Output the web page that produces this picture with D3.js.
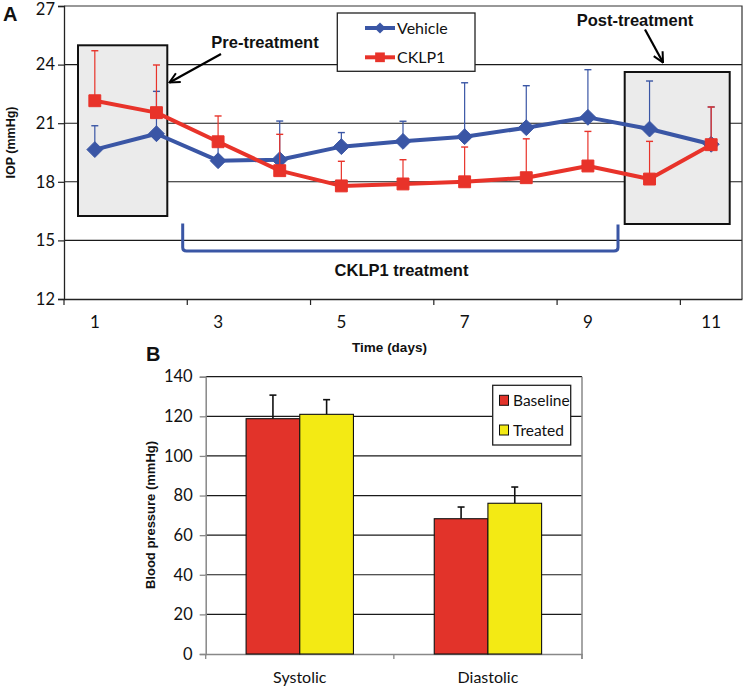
<!DOCTYPE html>
<html><head><meta charset="utf-8">
<script src="https://cdn.jsdelivr.net/npm/d3@7"></script>
<style>
html,body{margin:0;padding:0;background:#fff;}
svg{display:block;}
text{font-family:Lato,"Open Sans",sans-serif;fill:#111;}
.bold{font-family:"Liberation Sans",Arial,sans-serif;font-weight:bold;}
</style></head>
<body>
<svg id="c" width="745" height="686"></svg>
<script>
// ---------- Panel A data ----------
const days = [1,2,3,4,5,6,7,8,9,10,11];
const dayTickLabels = [1,3,5,7,9,11];
const iopTicks = [12,15,18,21,24,27];
const vehicleIOP = [19.65,20.46,19.08,19.13,19.80,20.07,20.31,20.77,21.30,20.70,19.92];
const vehicleErr = [1.22,2.17,1.0,1.98,0.72,1.03,2.76,2.15,2.44,2.46,1.91];
const cklpIOP    = [22.15,21.54,20.05,18.57,17.79,17.89,18.00,18.21,18.81,18.14,19.90];
const cklpErr    = [2.56,2.44,1.32,1.86,1.26,1.24,1.78,1.99,1.77,1.93,1.93];
const seriesNamesA = ["Vehicle","CKLP1"];
// ---------- Panel B data ----------
const bpCategories = ["Systolic","Diastolic"];
const bpSeries = ["Baseline","Treated"];
const bpBaseline = [118.8,68.3];
const bpTreated  = [121.0,76.1];
const bpBaselineErr = [11.9,5.9];
const bpTreatedErr  = [7.4,8.2];
const bpTicks = [0,20,40,60,80,100,120,140];

const BLUE="#3a56a5", RED="#e8332a", YEL="#f3ea14", BRED="#e2332a";
const svg = d3.select("#c");

// ================= PANEL A =================
const A = {l:64, r:742, t:6, b:299};
const x = d3.scaleBand().domain(days).range([A.l, A.r]).paddingInner(0).paddingOuter(0);
const y = d3.scaleLinear().domain([12,27]).range([A.b, A.t]);
const cx = d => x(d) + x.bandwidth()/2;
const gA = svg.append("g");

// gridlines
gA.append("g").selectAll("line").data(iopTicks.slice(1,-1)).join("line")
  .attr("x1",A.l).attr("x2",A.r).attr("y1",d=>y(d)).attr("y2",d=>y(d))
  .attr("stroke","#1a1a1a").attr("stroke-width",1.1);
// border
gA.append("path").attr("d",`M${A.l},${A.t}H${A.r}V${A.b}`).attr("fill","none").attr("stroke","#333").attr("stroke-width",1.2);

// y axis
const yAx = gA.append("g").attr("transform",`translate(${A.l},0)`)
  .call(d3.axisLeft(y).tickValues(iopTicks).tickSize(6).tickPadding(3));
yAx.select(".domain").attr("stroke","#222").attr("stroke-width",1.3);
yAx.selectAll(".tick line").attr("stroke","#222").attr("stroke-width",1.2);
yAx.selectAll(".tick text").attr("font-family","Lato").attr("font-size",16.5).attr("fill","#111");
yAx.selectAll(".tick text").filter(d=>d===27).attr("dy","0.5em");

// x axis
const xAx = gA.append("g").attr("transform",`translate(0,${A.b})`)
  .call(d3.axisBottom(x).tickValues(dayTickLabels).tickSize(0).tickPadding(17));
xAx.select(".domain").attr("stroke","#222").attr("stroke-width",1.3);
xAx.selectAll(".tick text").attr("font-family","Lato").attr("font-size",17).attr("fill","#111");
// category boundary ticks every 2 categories
const boundaryDays = days.filter((d,i)=> i%2===0);
gA.append("g").selectAll("line").data(boundaryDays).join("line")
  .attr("x1",d=>x(d)).attr("x2",d=>x(d)).attr("y1",A.b).attr("y2",A.b+6)
  .attr("stroke","#222").attr("stroke-width",1.2);

// gray boxes
gA.append("rect").attr("x",78).attr("y",45.3).attr("width",89.3).attr("height",170.7)
  .attr("fill","#ebebeb").attr("stroke","#111").attr("stroke-width",2);
gA.append("rect").attr("x",624.7).attr("y",72).attr("width",105).attr("height",152)
  .attr("fill","#ebebeb").attr("stroke","#111").attr("stroke-width",2);

// legend A
gA.append("rect").attr("x",337.3).attr("y",13).attr("width",137.7).attr("height",58.3)
  .attr("fill","#fff").attr("stroke","#222").attr("stroke-width",1.3);

function drawSeries(vals, errs, color, shape){
  const g = gA.append("g");
  // error bars (plus only)
  g.selectAll("line.eb").data(days).join("line").attr("class","eb")
    .attr("x1",d=>cx(d)).attr("x2",d=>cx(d))
    .attr("y1",(d,i)=>y(vals[i])).attr("y2",(d,i)=>y(vals[i]+errs[i]))
    .attr("stroke",color).attr("stroke-width",1.2);
  g.selectAll("line.cap").data(days).join("line").attr("class","cap")
    .attr("x1",d=>cx(d)-3.5).attr("x2",d=>cx(d)+3.5)
    .attr("y1",(d,i)=>y(vals[i]+errs[i])).attr("y2",(d,i)=>y(vals[i]+errs[i]))
    .attr("stroke",color).attr("stroke-width",1.4);
  const line = d3.line().x(d=>cx(d)).y((d,i)=>y(vals[i]));
  g.append("path").datum(days).attr("d",line).attr("fill","none")
    .attr("stroke",color).attr("stroke-width",4).attr("stroke-linejoin","round");
  const sym = d3.symbol().type(shape==="diamond"?d3.symbolDiamond2:d3.symbolSquare2).size(shape==="diamond"?160:180);
  g.selectAll("path.m").data(days).join("path").attr("class","m")
    .attr("transform",(d,i)=>`translate(${cx(d)},${y(vals[i])})`)
    .attr("d",sym).attr("fill",color).attr("stroke",color).attr("stroke-width",1);
}
drawSeries(vehicleIOP, vehicleErr, BLUE, "diamond");
drawSeries(cklpIOP, cklpErr, RED, "square");

// legend entries
const legA = [{name:seriesNamesA[0],c:BLUE,s:"diamond",y:28},{name:seriesNamesA[1],c:RED,s:"square",y:57.3}];
legA.forEach(e=>{
  gA.append("line").attr("x1",365).attr("x2",395).attr("y1",e.y).attr("y2",e.y)
    .attr("stroke",e.c).attr("stroke-width",4);
  gA.append("path").attr("transform",`translate(380,${e.y})`)
    .attr("d",d3.symbol().type(e.s==="diamond"?d3.symbolDiamond2:d3.symbolSquare2).size(e.s==="diamond"?80:120))
    .attr("fill",e.c);
  gA.append("text").attr("x",397).attr("y",e.y).attr("dy","0.36em").attr("font-size",16).text(e.name);
});

// annotations
const defs = svg.append("defs");
defs.append("marker").attr("id","ah").attr("viewBox","0 0 12 12").attr("refX",11).attr("refY",6)
  .attr("markerWidth",5.5).attr("markerHeight",5.5).attr("orient","auto").attr("markerUnits","strokeWidth")
  .append("path").attr("d","M1,1 L11,6 L1,11").attr("fill","none").attr("stroke","#000").attr("stroke-width",2);
gA.append("text").attr("class","bold").attr("x",265).attr("y",48).attr("text-anchor","middle").attr("font-size",16.5).text("Pre-treatment");
gA.append("line").attr("x1",221).attr("y1",54).attr("x2",169.5).attr("y2",82.5)
  .attr("stroke","#000").attr("stroke-width",2.2).attr("marker-end","url(#ah)");
gA.append("text").attr("class","bold").attr("x",635).attr("y",26).attr("text-anchor","middle").attr("font-size",16.5).text("Post-treatment");
gA.append("line").attr("x1",645).attr("y1",29.5).attr("x2",663).attr("y2",62.5)
  .attr("stroke","#000").attr("stroke-width",2.2).attr("marker-end","url(#ah)");

// bracket
gA.append("path").attr("d","M182.7,223.5 L182.7,247.5 Q182.7,251 186.5,251 L614,251 Q618,251 618,247.5 L618,224.5")
  .attr("fill","none").attr("stroke",BLUE).attr("stroke-width",3);
gA.append("text").attr("class","bold").attr("x",401.5).attr("y",276).attr("text-anchor","middle").attr("font-size",16.5).text("CKLP1 treatment");

// titles
gA.append("text").attr("class","bold").attr("x",389.5).attr("y",352).attr("text-anchor","middle").attr("font-size",13.5).text("Time (days)");
gA.append("text").attr("class","bold").attr("transform","translate(14.5,142.5) rotate(-90)").attr("text-anchor","middle").attr("font-size",12.5).text("IOP (mmHg)");
gA.append("text").attr("class","bold").attr("x",3).attr("y",21).attr("font-size",20).text("A");

// ================= PANEL B =================
const B = {l:205.7, r:582, t:376.7, b:654};
const xb = d3.scaleBand().domain(bpCategories).range([B.l,B.r]).paddingInner(0).paddingOuter(0);
const xs = d3.scaleBand().domain(bpSeries).range([40.4, xb.bandwidth()-40.4]).padding(0);
const yb = d3.scaleLinear().domain([0,140]).range([B.b,B.t]);
const gB = svg.append("g");

gB.append("g").selectAll("line").data(bpTicks.slice(1)).join("line")
  .attr("x1",B.l).attr("x2",B.r).attr("y1",d=>yb(d)).attr("y2",d=>yb(d))
  .attr("stroke","#1a1a1a").attr("stroke-width",1.2);
gB.append("line").attr("x1",B.r).attr("x2",B.r).attr("y1",B.t).attr("y2",B.b+5).attr("stroke","#888").attr("stroke-width",1.5);

const ybAx = gB.append("g").attr("transform",`translate(${B.l},0)`)
  .call(d3.axisLeft(yb).tickValues(bpTicks).tickSize(6).tickPadding(7));
ybAx.select(".domain").attr("stroke","#888").attr("stroke-width",1.5);
ybAx.selectAll(".tick line").attr("stroke","#888").attr("stroke-width",1.3);
ybAx.selectAll(".tick text").attr("font-family","Lato").attr("font-size",16.5).attr("fill","#111");

const xbAx = gB.append("g").attr("transform",`translate(0,${B.b})`)
  .call(d3.axisBottom(xb).tickSize(0).tickPadding(18));
xbAx.select(".domain").attr("stroke","#888").attr("stroke-width",1.5);
xbAx.selectAll(".tick text").attr("font-family","Lato").attr("font-size",16).attr("fill","#111");
gB.append("g").selectAll("line").data([B.l, B.l+xb.bandwidth(), B.r]).join("line")
  .attr("x1",d=>d).attr("x2",d=>d).attr("y1",B.b).attr("y2",B.b+5).attr("stroke","#888").attr("stroke-width",1.3);

const bpData = [
  {s:bpSeries[0], vals:bpBaseline, errs:bpBaselineErr, c:BRED},
  {s:bpSeries[1], vals:bpTreated, errs:bpTreatedErr, c:YEL}
];
bpData.forEach(sr=>{
  bpCategories.forEach((cat,i)=>{
    const x0 = xb(cat)+xs(sr.s), w = xs.bandwidth(), top = yb(sr.vals[i]);
    const xm = x0 + w/2, et = yb(sr.vals[i]+sr.errs[i]);
    gB.append("line").attr("x1",xm).attr("x2",xm).attr("y1",top).attr("y2",et).attr("stroke","#111").attr("stroke-width",1.6);
    gB.append("line").attr("x1",xm-3.5).attr("x2",xm+3.5).attr("y1",et).attr("y2",et).attr("stroke","#111").attr("stroke-width",1.6);
    gB.append("rect").attr("x",x0).attr("y",top).attr("width",w).attr("height",B.b-top)
      .attr("fill",sr.c).attr("stroke","#111").attr("stroke-width",1.1);
  });
});

// legend B
gB.append("rect").attr("x",492.7).attr("y",385.3).attr("width",78).attr("height",59.7)
  .attr("fill","#fff").attr("stroke","#222").attr("stroke-width",1.3);
bpData.forEach((sr,i)=>{
  const cy = [400.3,430][i];
  gB.append("rect").attr("x",499.5).attr("y",cy-5).attr("width",9).attr("height",10)
    .attr("fill",sr.c).attr("stroke","#111").attr("stroke-width",1);
  gB.append("text").attr("x",513).attr("y",cy).attr("dy","0.36em").attr("font-size",15.5).text(sr.s);
});

gB.append("text").attr("class","bold").attr("transform","translate(155,515) rotate(-90)").attr("text-anchor","middle").attr("font-size",13).text("Blood pressure (mmHg)");
gB.append("text").attr("class","bold").attr("x",146).attr("y",361).attr("font-size",20).text("B");
</script>
</body></html>
